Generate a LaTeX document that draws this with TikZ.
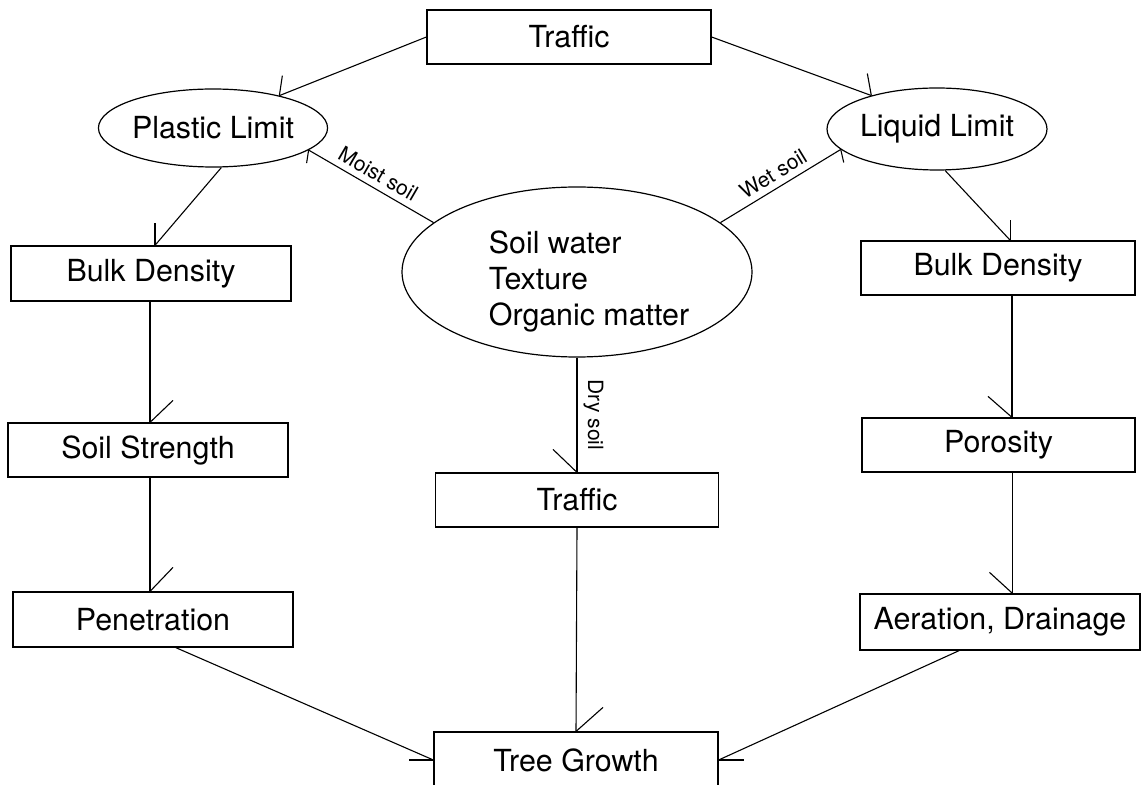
\documentclass[tikz,border=0pt]{standalone}
\usepackage{fontspec}
\setmainfont{TeX Gyre Heros}
\usetikzlibrary{shapes.geometric,calc}
\begin{document}
\begin{tikzpicture}[x=0.5pt,y=-0.5pt,
  box/.style={draw, rectangle, inner sep=0pt, line width=0.6pt, font=\fontsize{15.2}{18}\selectfont},
  oval/.style={draw, ellipse, inner sep=0pt, line width=0.6pt, font=\fontsize{15.2}{18}\selectfont},
  txt/.style={inner sep=0pt, font=\fontsize{15.2}{18}\selectfont},
  conn/.style={line width=0.55pt},
  lbl/.style={font=\fontsize{10.5}{12}\selectfont, inner sep=3pt}]
\useasboundingbox (0,0) rectangle (1144,785);
% nodes
\node[box, minimum width=142pt, minimum height=27pt] (traffic1) at (569,37) {Traffic};
\node[oval, minimum width=106pt, minimum height=39pt] (plastic) at (213,128) {Plastic Limit};
\node[oval, minimum width=110pt, minimum height=41pt] (liquid) at (937,129) {Liquid Limit};
\node[oval, minimum width=175pt, minimum height=85pt] (soil) at (577,272) {};
\node[txt, align=left] (soiltext) at (589,281) {Soil water\\Texture\\Organic matter};
\node[box, minimum width=140pt, minimum height=27.5pt] (bd1) at (151,273.5) {Bulk Density};
\node[box, minimum width=140pt, minimum height=27pt] (ss) at (148,450) {Soil Strength};
\node[box, minimum width=140pt, minimum height=27.5pt] (pen) at (153,619.5) {Penetration};
\node[box, minimum width=137pt, minimum height=27pt] (bd2) at (998,268) {Bulk Density};
\node[box, minimum width=136.5pt, minimum height=27pt] (por) at (998.5,445) {Porosity};
\node[box, minimum width=140pt, minimum height=28pt] (aer) at (1000,622) {Aeration, Drainage};
\node[box, minimum width=141.5pt, minimum height=27pt] (traffic2) at (577,500) {Traffic};
\node[box, minimum width=142pt, minimum height=28pt] (tree) at (576,760) {Tree Growth};
% connectors
\draw[conn] (traffic1.west) -- (plastic.26);
\draw[conn] (plastic.26) -- ++(3,-20);
\draw[conn] (traffic1.east) -- (liquid.153);
\draw[conn] (liquid.153) -- ++(-4,-22);
\draw[conn] (plastic.-13) -- node[lbl, sloped, above] {Moist soil} (soil.161);
\draw[conn] (plastic.-13) -- ++(-2,13);
\draw[conn] (soil.19) -- node[lbl, sloped, above] {Wet soil} (liquid.192);
\draw[conn] (liquid.192) -- ++(3,13);
\draw[conn] (plastic.-78) -- (bd1.82);
\draw[conn] (bd1.82) -- ++(0,-22);
\draw[conn] (liquid.-79) -- (bd2.66);
\draw[conn] (bd2.66) -- ++(0,-20);
\draw[conn] ($(bd1.south)+(-1,0)$) coordinate (b1) -- (b1 |- ss.north) coordinate (b1e);
\draw[conn] (b1e) -- ++(23,-22);
\draw[conn] ($(ss.south)+(2,0)$) coordinate (s1) -- (s1 |- pen.north) coordinate (s1e);
\draw[conn] (s1e) -- ++(23,-24);
\draw[conn] ($(bd2.south)+(14,0)$) coordinate (b2) -- (b2 |- por.north) coordinate (b2e);
\draw[conn] (b2e) -- ++(-24,-21);
\draw[conn] ($(por.south)+(14,0)$) coordinate (p2) -- (p2 |- aer.north) coordinate (p2e);
\draw[conn] (p2e) -- ++(-23,-21);
\draw[conn] (soil.south) -- node[lbl, rotate=-90, anchor=south] {Dry soil} (traffic2.north);
\draw[conn] (traffic2.north) -- ++(-24,-23);
\draw[conn] (traffic2.south) -- (tree.north);
\draw[conn] (tree.north) -- ++(27,-24);
\draw[conn] (pen.-51) -- (tree.west);
\draw[conn] (tree.west) -- ++(-24,0);
\draw[conn] (aer.-145) -- (tree.east);
\draw[conn] (tree.east) -- ++(25,0);
\end{tikzpicture}
\end{document}
